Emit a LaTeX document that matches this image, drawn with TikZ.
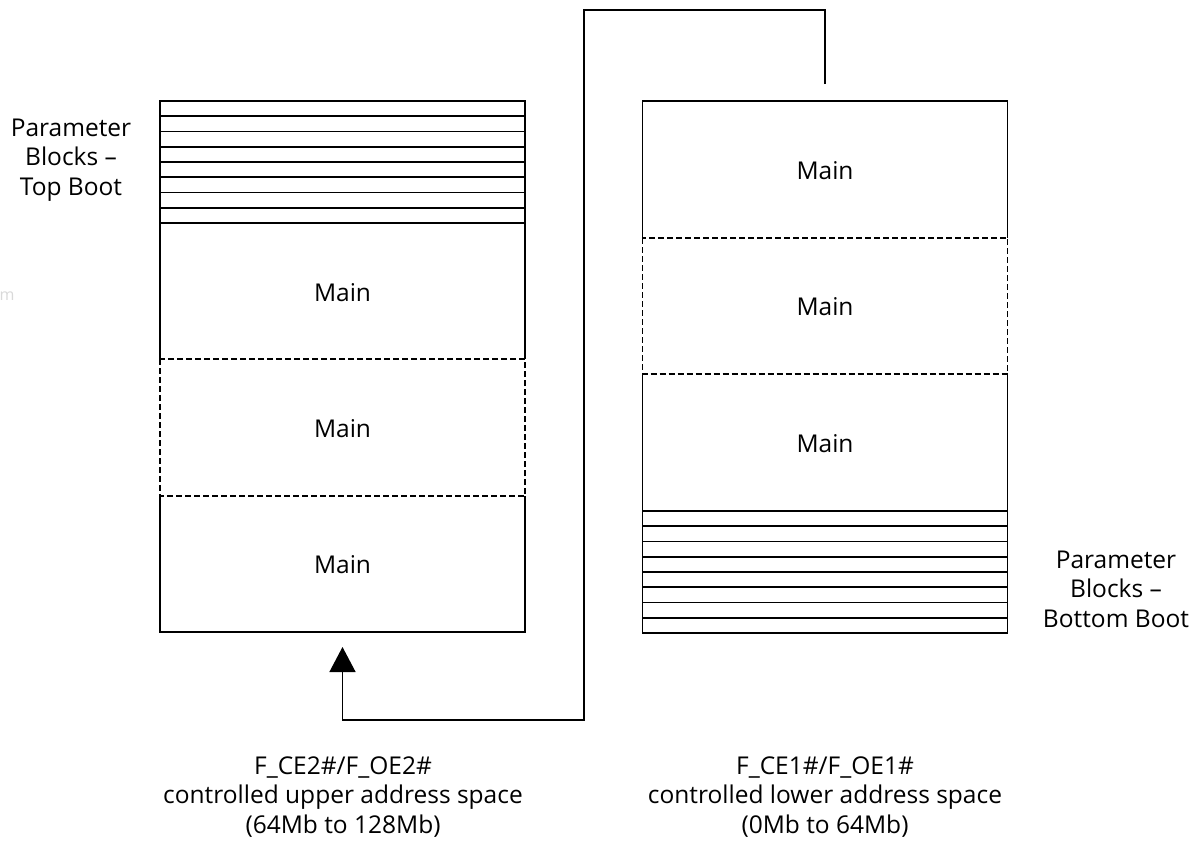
\documentclass[tikz,border=0pt]{standalone}
\usepackage{fontspec}
\setmainfont{Open Sans}
\usetikzlibrary{arrows.meta,calc}
\begin{document}
\begin{tikzpicture}[x=1pt,y=-1pt,
  blk/.style={minimum width=365pt, inner sep=0pt, outer sep=0pt},
  lbl/.style={font=\fontsize{24.5}{29.5}\selectfont, align=center, inner sep=0pt},
  edge/.style={line width=1.6pt},
  dsh/.style={line width=1.5pt, dash pattern=on 6pt off 3pt},
  conn/.style={line width=1.4pt}]
\useasboundingbox (0,0) rectangle (1195,841);

% ---- left column ----
\node[blk, minimum height=122pt] (lp) at (342.5,162) {};
\node[blk, minimum height=136pt] (lm1) at (342.5,291) {};
\node[blk, minimum height=137pt] (lm2) at (342.5,427.5) {};
\node[blk, minimum height=136pt] (lm3) at (342.5,564) {};
\draw[edge] (lp.north west) rectangle (lp.south east);
\foreach \i in {1,...,7}
  \draw[edge] ($(lp.north west)!\i/8!(lp.south west)$) -- ($(lp.north east)!\i/8!(lp.south east)$);
\draw[edge] (lm1.north west) -- (lm1.south west) (lm1.north east) -- (lm1.south east);
\draw[dsh] (lm2.north west) rectangle (lm2.south east);
\draw[edge] (lm3.north west) -- (lm3.south west) -- (lm3.south east) -- (lm3.north east);
\node[lbl] (lt1) at ([yshift=-2pt]lm1.center) {Main};
\node[lbl] (lt2) at ([yshift=-1pt]lm2.center) {Main};
\node[lbl] (lt3) at ([yshift=-1pt]lm3.center) {Main};

% ---- right column ----
\node[blk, minimum height=137pt] (rm1) at (825,169.5) {};
\node[blk, minimum height=136pt] (rm2) at (825,306) {};
\node[blk, minimum height=137pt] (rm3) at (825,442.5) {};
\node[blk, minimum height=122pt] (rp) at (825,572) {};
\draw[edge] (rm1.south west) -- (rm1.north west) -- (rm1.north east) -- (rm1.south east);
\draw[dsh] (rm2.north west) rectangle (rm2.south east);
\draw[edge] (rm3.north west) -- (rm3.south west) (rm3.north east) -- (rm3.south east);
\draw[edge] (rp.north west) rectangle (rp.south east);
\foreach \i in {1,...,7}
  \draw[edge] ($(rp.north west)!\i/8!(rp.south west)$) -- ($(rp.north east)!\i/8!(rp.south east)$);
\node[lbl] (rt1) at ([yshift=-1pt]rm1.center) {Main};
\node[lbl] (rt2) at ([yshift=-1pt]rm2.center) {Main};
\node[lbl] (rt3) at ([yshift=-1pt]rm3.center) {Main};

% ---- side labels ----
\node[lbl] (tl) at (71,160) {Parameter\\Blocks –\\Top Boot};
\node[lbl] (bl) at (1116,589) {Parameter\\Blocks –\\Bottom Boot};

% ---- bottom labels ----
\node[lbl] (lc) at (343,797) {F\_CE2\#/F\_OE2\#\\controlled upper address space\\(64Mb to 128Mb)};
\node[lbl] (rc) at (825,797) {F\_CE1\#/F\_OE1\#\\controlled lower address space\\(0Mb to 64Mb)};

% ---- faint artefact ----
\node[text=black!15, font=\fontsize{16}{16}\selectfont, inner sep=0pt] (fm) at (7,296) {m};

% ---- connector ----
\coordinate (cs) at (825,84);
\draw[conn, -{Triangle[width=26pt,length=25pt]}, shorten >=15pt]
  (cs) |- (584,10) -- (584,720) -| (lm3.south);
\end{tikzpicture}
\end{document}
